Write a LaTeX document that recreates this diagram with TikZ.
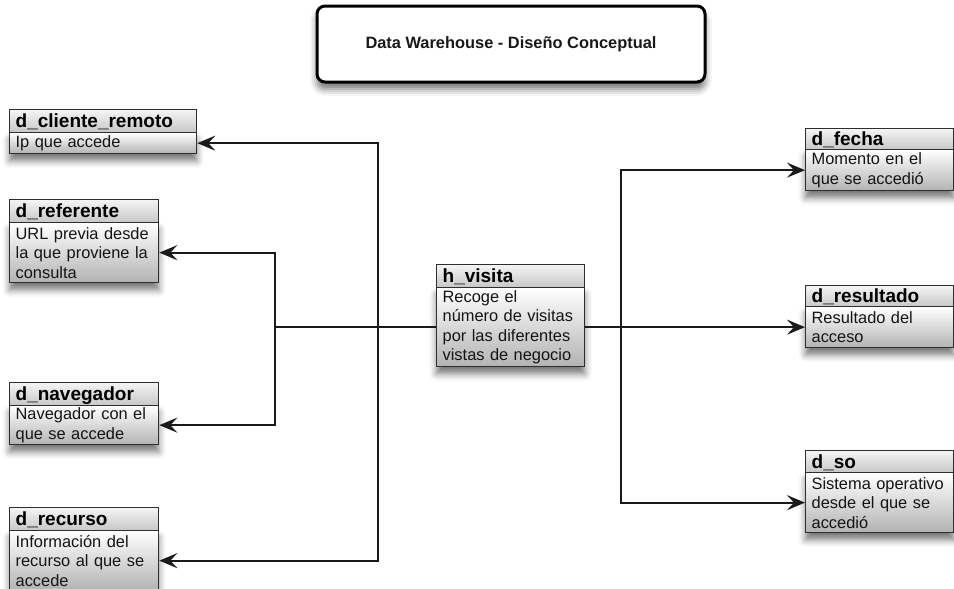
\documentclass[tikz,border=0pt]{standalone}
\usepackage{fontspec}
\setmainfont{Liberation Sans}
\usetikzlibrary{arrows.meta,shadows.blur}
\definecolor{edge}{HTML}{2E2E2E}
\definecolor{wirec}{HTML}{1A1A1A}
\tikzset{
  softshadow/.style={blur shadow={shadow xshift=0pt, shadow yshift=-7pt,
      shadow blur radius=7pt, shadow opacity=55}},
  tbody/.style={draw=edge, line width=1.3pt, top color=white, bottom color=black!30,
      inner xsep=6pt, inner ysep=0pt, align=left, text=black!92,
      font=\fontsize{16.4}{19.5}\selectfont, softshadow},
  thead/.style={draw=edge, line width=1.3pt, top color=black!4, bottom color=black!22,
      inner xsep=6pt, inner ysep=0pt, align=left, text=black,
      font=\fontsize{19}{22}\selectfont\bfseries, text height=14pt, text depth=1pt},
  titlebox/.style={draw=black, line width=3pt, rounded corners=8pt, fill=white,
      font=\fontsize{16.4}{20}\selectfont\bfseries, text=black!90, softshadow},
  wire/.style={draw=wirec, line width=2.2pt,
      -{Stealth[length=18pt,width=15pt,inset=7pt]}},
}
% one dimension table: id, left, right, top, divider, bottom, name, description
\newcommand\dimtable[8]{%
  \pgfmathsetmacro\tabw{#3-#2}%
  \pgfmathsetmacro\tabtw{#3-#2-12}%
  \pgfmathsetmacro\bodyh{#6-#5}%
  \pgfmathsetmacro\headh{#5-#4}%
  \node[tbody, minimum width=\tabw pt, minimum height=\bodyh pt, text width=\tabtw pt,
        anchor=north west] (#1b) at (#2,#5) {#8};
  \node[thead, minimum width=\tabw pt, minimum height=\headh pt, text width=\tabtw pt,
        anchor=north west] (#1h) at (#2,#4) {#7};
}
\begin{document}
\begin{tikzpicture}[x=1pt,y=-1pt]
\useasboundingbox (0,0) rectangle (954,589);

\node[titlebox, minimum width=388pt, minimum height=76pt] (ttl) at (511,44)
  {Data Warehouse - Diseño Conceptual};

% dimensions on the left
\dimtable{cli}{9}{196}{109}{132}{153}{d\_cliente\_remoto}{Ip que accede}
\dimtable{ref}{9}{158}{199}{222}{282}{d\_referente}{URL previa desde\\la que proviene la\\consulta}
\dimtable{nav}{9}{158}{382}{405}{444}{d\_navegador}{Navegador con el\\que se accede}
\dimtable{rec}{9}{158}{507}{530}{590}{d\_recurso}{Información del\\recurso al que se\\accede}

% fact table
\dimtable{hv}{436}{584}{264}{287}{366}{h\_visita}{Recoge el\\número de visitas\\por las diferentes\\vistas de negocio}

% dimensions on the right
\dimtable{fec}{805}{953}{128}{149}{190}{d\_fecha}{Momento en el\\que se accedió}
\dimtable{res}{805}{953}{285}{306}{347}{d\_resultado}{Resultado del\\acceso}
\dimtable{so}{805}{953}{450}{472}{532}{d\_so}{Sistema operativo\\desde el que se\\accedió}

% trunk lines of the connectors
\coordinate (jl) at (275,0);
\coordinate (jo) at (378,0);
\coordinate (jr) at (621,0);

\draw[wire] (hvb.west) -- (hvb.west -| jl) |- (refb.east);
\draw[wire] (hvb.west -| jl) |- (navb.east);
\draw[wire] (hvb.west -| jo) |- (clib.east);
\draw[wire] (hvb.west -| jo) |- (recb.east);

\draw[wire] (hvb.east) -- (hvb.east -| resb.west);
\draw[wire] (hvb.east -| jr) |- (fecb.west);
\draw[wire] (hvb.east -| jr) |- (sob.west);
\end{tikzpicture}
\end{document}
